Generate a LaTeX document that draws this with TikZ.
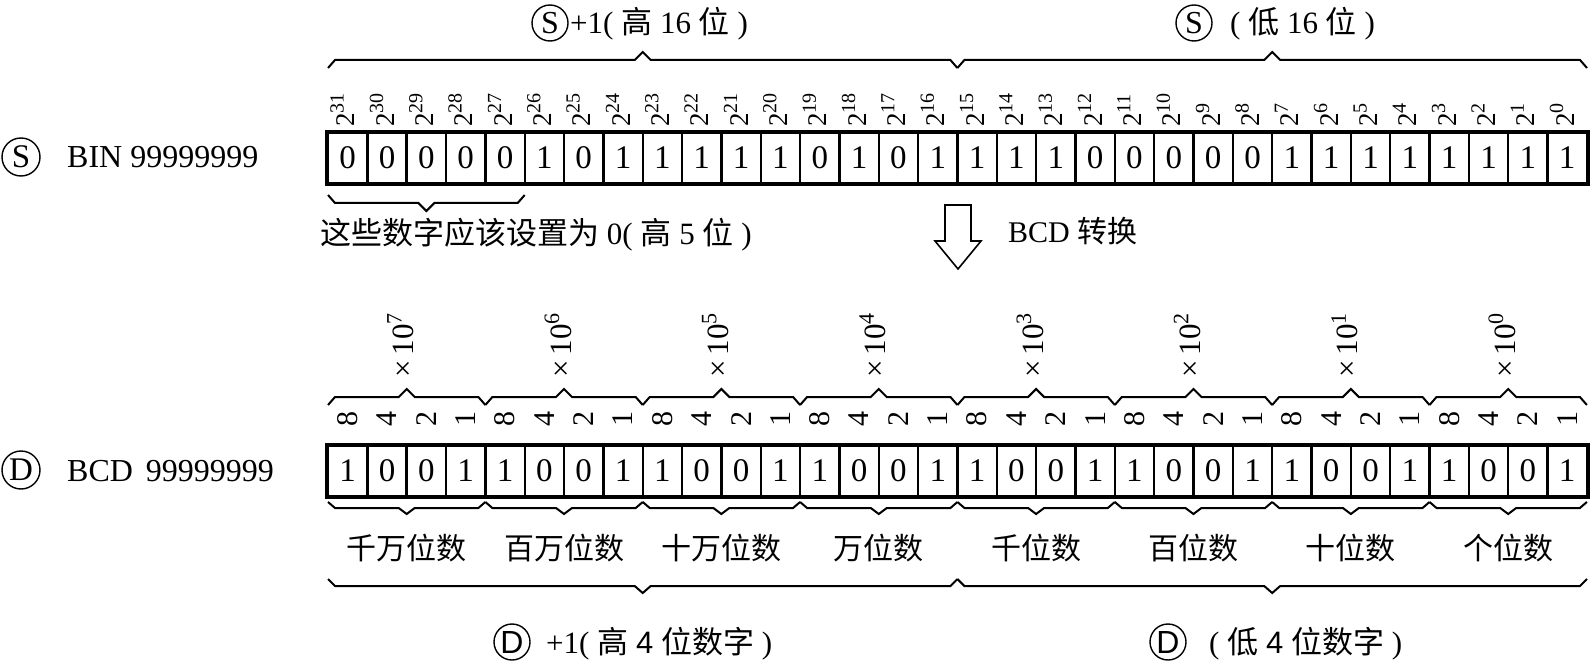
\documentclass[tikz,border=0pt]{standalone}
\usepackage{fontspec}
\setmainfont{Liberation Serif}
\newfontfamily\cjk{Noto Sans CJK SC}
\newfontfamily\asans{Liberation Sans}
\newcommand\fs[1]{\fontsize{#1}{#1}\selectfont}
\newcommand\angbrace[4]{%
  \pgfmathsetmacro\bm{(#1+#2)/2}%
  \draw[bracestyle] (#1,{#3-(#4)}) -- ({#1+7},#3) -- ({\bm-8},#3) -- (\bm,{#3+(#4)}) -- ({\bm+8},#3) -- ({#2-7},#3) -- (#2,{#3-(#4)});%
}
\begin{document}
\begin{tikzpicture}[x=1pt,y=-1pt,
  bracestyle/.style={line width=2pt, line join=miter},
  cell/.style={draw, line width=2.4pt, minimum width=39.34pt, minimum height=50pt, inner sep=0pt, font=\fs{33}},
  explabel/.style={rotate=90, anchor=base west, inner sep=0pt, font=\fs{27}},
  mullabel/.style={rotate=90, anchor=base west, inner sep=0pt, font=\fs{31}},
  wlabel/.style={rotate=90, anchor=center, inner sep=0pt, font=\fs{30}},
  circ/.style={draw, circle, line width=1.4pt, inner sep=0pt},
  grp/.style={font=\fs{30}\cjk, inner sep=0pt},
  plain/.style={inner sep=0pt, anchor=base west}
]
\useasboundingbox (0,0) rectangle (1590,663);

% ---------- top titles ----------
\node[circ, minimum size=36pt, font=\fs{32}] (ts1) at (550,23) {S};
\node[plain, font=\fs{31}] (tt1) at (570,34) {+1( {\cjk 高} 16 {\cjk 位} )};
\node[circ, minimum size=36pt, font=\fs{32}] (ts2) at (1194,23) {S};
\node[plain, font=\fs{31}] (tt2) at (1230,34) {( {\cjk 低} 16 {\cjk 位} )};

\angbrace{328}{957.4}{60}{-8}
\angbrace{957.4}{1587}{60}{-8}

% ---------- source register ----------
\node[circ, minimum size=38pt, font=\fs{33}] (s0) at (21,157) {S};
\node[plain, font=\fs{32}] (bin) at (67,168) {BIN 99999999};

\foreach \b [count=\i] in {0,0,0,0,0,1,0,1,1,1,1,1,0,1,0,1,1,1,1,0,0,0,0,0,1,1,1,1,1,1,1,1} {
  \pgfmathsetmacro\cx{328+(\i-0.5)*39.34}
  \pgfmathtruncatemacro\e{32-\i}
  \node[cell] (t\i) at (\cx,158) {\b};
  \node[explabel] (e\i) at ({\cx+7},127) {2\raisebox{11pt}{\fs{20}\e}};
}
\draw[line width=3.4pt] (t1.north west) rectangle (t32.south east);

\angbrace{328}{524.7}{203}{8}
\node[plain, font=\fs{31}] (zero) at (320,244) {{\cjk 这些数字应该设置为} 0( {\cjk 高} 5 {\cjk 位} )};

% ---------- conversion arrow ----------
\draw[line width=1.6pt, line join=miter] (945,205) -- (971,205) -- (971,241) -- (981,241) -- (958,269) -- (935,241) -- (945,241) -- cycle;
\node[plain, font=\fs{30}] (conv) at (1008,243) {BCD {\cjk 转换}};

% ---------- BCD register ----------
\node[circ, minimum size=38pt, font=\fs{33}] (d0) at (21,470) {D};
\node[plain, font=\fs{32}] (bcd) at (67,481) {BCD\hspace{5pt} 99999999};

\foreach \b [count=\i] in {1,0,0,1,1,0,0,1,1,0,0,1,1,0,0,1,1,0,0,1,1,0,0,1,1,0,0,1,1,0,0,1} {
  \pgfmathsetmacro\cx{328+(\i-0.5)*39.34}
  \pgfmathtruncatemacro\w{mod(\i-1,4)}
  \node[cell] (b\i) at (\cx,471) {\b};
  \ifcase\w \def\wv{8}\or \def\wv{4}\or \def\wv{2}\else \def\wv{1}\fi
  \node[wlabel] (w\i) at (\cx,419) {\wv};
}
\draw[line width=3.4pt] (b1.north west) rectangle (b32.south east);

\foreach \n [count=\g] in {7,6,5,4,3,2,1,0} {
  \pgfmathsetmacro\gx{328+(\g-1)*157.36}
  \pgfmathsetmacro\gy{\gx+157.36}
  \pgfmathsetmacro\gc{\gx+78.68}
  \angbrace{\gx}{\gy}{397}{-8}
  \angbrace{\gx}{\gy}{508}{6}
  \node[mullabel] (m\g) at ({\gc+7},378) {×\,10\raisebox{12pt}{\fs{22}\n}};
}

\foreach \t [count=\g] in {千万位数,百万位数,十万位数,万位数,千位数,百位数,十位数,个位数} {
  \pgfmathsetmacro\gc{328+(\g-0.5)*157.36}
  \node[grp] (g\g) at (\gc,548) {\t};
}

\angbrace{328}{957.4}{586}{7}
\angbrace{957.4}{1587}{586}{7}

% ---------- bottom titles ----------
\node[circ, minimum size=36pt, font=\fs{32}\asans] (bd1) at (512,642) {D};
\node[plain, font=\fs{31}] (bt1) at (546,653) {+1( {\cjk 高} {\asans 4} {\cjk 位数字} )};
\node[circ, minimum size=36pt, font=\fs{32}\asans] (bd2) at (1168,642) {D};
\node[plain, font=\fs{31}] (bt2) at (1209,653) {( {\cjk 低} {\asans 4} {\cjk 位数字} )};
\end{tikzpicture}
\end{document}
